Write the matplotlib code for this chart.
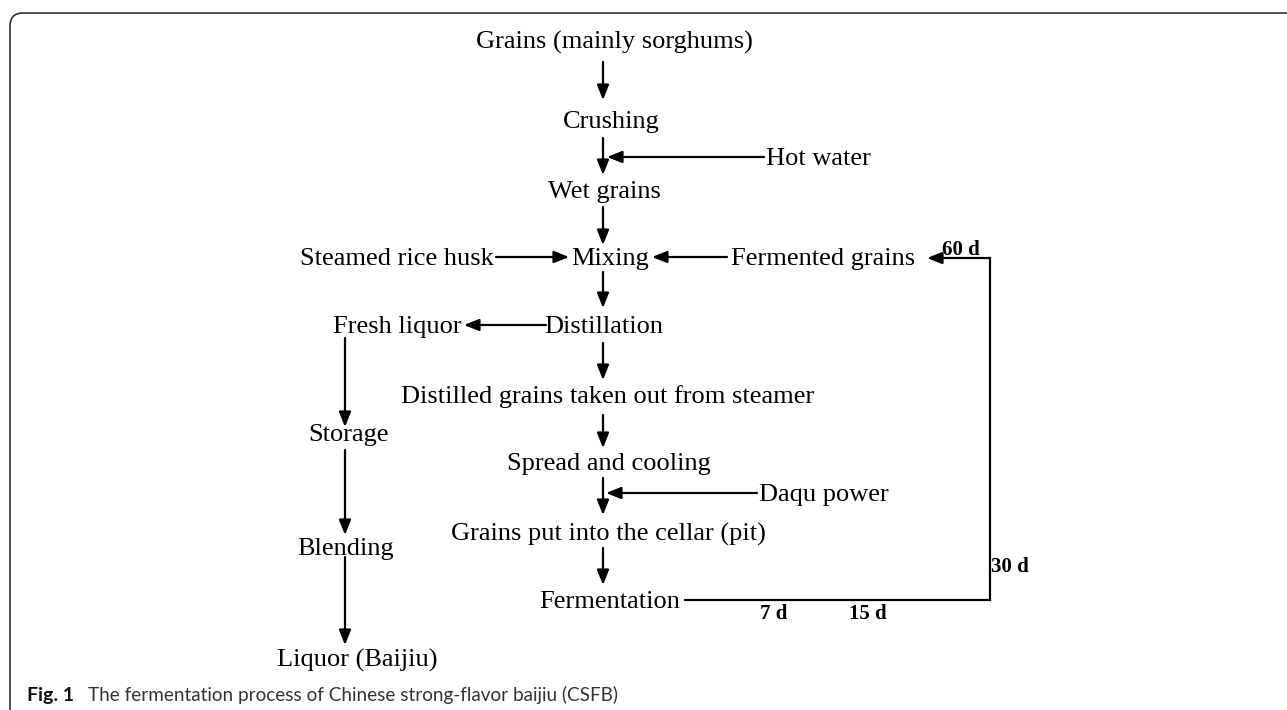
import matplotlib.pyplot as plt
from matplotlib.patches import FancyBboxPatch

# process steps (label, x centre, y centre) in pixel space of the figure
main_labels = ['Grains (mainly sorghums)', 'Crushing', 'Wet grains', 'Mixing',
               'Distillation', 'Distilled grains taken out from steamer',
               'Spread and cooling', 'Grains put into the cellar (pit)', 'Fermentation']
main_x = [614, 611, 604, 610, 604, 608, 609, 608, 610]
main_y = [42, 122, 192, 259, 327, 397, 464, 534, 602]

side_labels = ['Hot water', 'Steamed rice husk', 'Fermented grains', 'Fresh liquor',
               'Storage', 'Blending', 'Liquor (Baijiu)', 'Daqu power']
side_x = [818, 397, 823, 397, 349, 346, 357, 824]
side_y = [159, 259, 259, 327, 435, 549, 660, 495]

days_labels = ['60 d', '30 d', '7 d', '15 d']
days_x = [961, 1010, 774, 868]
days_y = [250, 567, 614, 614]

# arrows: (x0, y0, x1, y1), head at the end
arrows = [
    (603, 62, 603, 100), (603, 138, 603, 175), (603, 207, 603, 245),
    (603, 272, 603, 308), (603, 343, 603, 380), (603, 415, 603, 448),
    (603, 478, 603, 515), (603, 548, 603, 585),
    (764, 157, 607, 157), (757, 493, 606, 493),
    (496, 257, 569, 257), (727, 257, 652, 257), (546, 325, 464, 325),
    (345, 338, 345, 427), (345, 450, 345, 535), (345, 557, 345, 645),
    (990, 258, 927, 258),
]
# recycle loop of fermented grains
loop_x = [685, 990, 990]
loop_y = [600, 600, 258]

fig = plt.figure(figsize=(12.87, 7.10), dpi=100)
ax = fig.add_axes([0, 0, 1, 1])
ax.set_xlim(0, 1287)
ax.set_ylim(710, 0)
ax.axis('off')

border = FancyBboxPatch((10, 13), 1320, 720, boxstyle='round,pad=0,rounding_size=13',
                        fc='none', ec='#333333', lw=1.2)
ax.add_patch(border)

serif = 'Liberation Serif'
for lab, x, y in zip(main_labels, main_x, main_y):
    ax.text(x, y, lab, ha='center', va='center', fontsize=19, family=serif)
for lab, x, y in zip(side_labels, side_x, side_y):
    ax.text(x, y, lab, ha='center', va='center', fontsize=19, family=serif)
for lab, x, y in zip(days_labels, days_x, days_y):
    ax.text(x, y, lab, ha='center', va='center', fontsize=15, family=serif, weight='bold')

for x0, y0, x1, y1 in arrows:
    ax.annotate('', xy=(x1, y1), xytext=(x0, y0),
                arrowprops=dict(arrowstyle='-|>,head_length=0.5,head_width=0.2',
                                mutation_scale=18, lw=1.6, color='black',
                                shrinkA=0, shrinkB=0))
ax.plot(loop_x, loop_y, color='black', lw=1.6, solid_joinstyle='miter')

ax.text(27, 695, 'Fig. 1', ha='left', va='center', fontsize=14, family='Lato',
        weight='bold', color='#111111')
ax.text(88, 695, 'The fermentation process of Chinese strong-flavor baijiu (CSFB)',
        ha='left', va='center', fontsize=13.6, family='Lato', color='#333333')

fig.savefig('out.png', dpi=100)
